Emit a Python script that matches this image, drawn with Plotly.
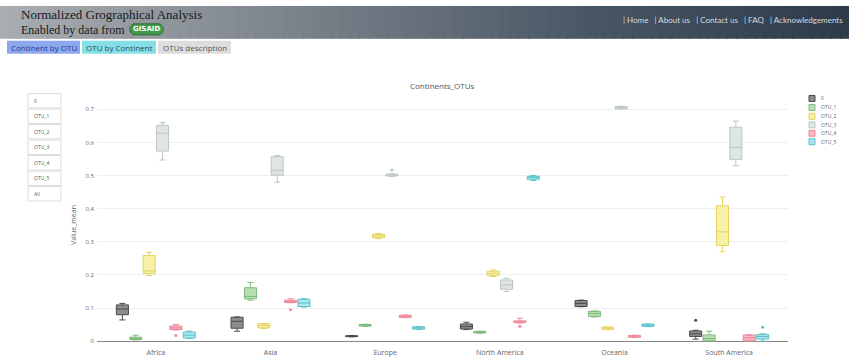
import plotly.graph_objects as go

W, H = 849, 364

continents = ["Africa", "Asia", "Europe", "North America", "Oceania", "South America"]
otu_names = ["0", "OTU_1", "OTU_2", "OTU_3", "OTU_4", "OTU_5"]
menu_labels = ["0", "OTU_1", "OTU_2", "OTU_3", "OTU_4", "OTU_5", "All"]

# sample values per continent, one list per OTU
otu_0 = [
    [0.064, 0.085, 0.097, 0.108, 0.114],
    [0.030, 0.042, 0.060, 0.072, 0.073],
    [0.013, 0.014, 0.015, 0.016, 0.017],
    [0.035, 0.037, 0.044, 0.050, 0.057],
    [0.104, 0.105, 0.114, 0.122, 0.124],
    [0.006, 0.012, 0.015, 0.019, 0.022, 0.026, 0.030, 0.033, 0.063],
]
otu_1 = [
    [0.004, 0.005, 0.008, 0.010, 0.018],
    [0.124, 0.129, 0.135, 0.156, 0.177],
    [0.045, 0.046, 0.048, 0.050, 0.051],
    [0.024, 0.025, 0.027, 0.029, 0.030],
    [0.073, 0.075, 0.083, 0.090, 0.091],
    [0.000, 0.001, 0.008, 0.015, 0.030],
]
otu_2 = [
    [0.198, 0.207, 0.212, 0.255, 0.268],
    [0.038, 0.041, 0.047, 0.052, 0.053],
    [0.309, 0.314, 0.318, 0.322, 0.325],
    [0.195, 0.199, 0.205, 0.210, 0.215],
    [0.035, 0.036, 0.039, 0.042, 0.043],
    [0.270, 0.295, 0.330, 0.400, 0.435],
]
otu_3 = [
    [0.547, 0.583, 0.628, 0.649, 0.660],
    [0.480, 0.508, 0.516, 0.556, 0.560],
    [0.497, 0.498, 0.499, 0.500, 0.501, 0.502, 0.504, 0.505, 0.517],
    [0.150, 0.159, 0.170, 0.183, 0.190],
    [0.701, 0.702, 0.705, 0.708, 0.709],
    [0.530, 0.555, 0.585, 0.640, 0.664],
]
otu_4 = [
    [0.017, 0.034, 0.035, 0.038, 0.040, 0.042, 0.045, 0.048, 0.050],
    [0.095, 0.116, 0.117, 0.119, 0.120, 0.121, 0.123, 0.126, 0.128],
    [0.071, 0.072, 0.075, 0.078, 0.079],
    [0.045, 0.055, 0.056, 0.057, 0.058, 0.059, 0.061, 0.062, 0.069],
    [0.011, 0.012, 0.015, 0.017, 0.018],
    [0.000, 0.001, 0.010, 0.018, 0.019],
]
otu_5 = [
    [0.008, 0.010, 0.018, 0.027, 0.030],
    [0.103, 0.105, 0.115, 0.126, 0.128],
    [0.035, 0.037, 0.040, 0.043, 0.044],
    [0.485, 0.490, 0.494, 0.497, 0.500],
    [0.044, 0.045, 0.048, 0.051, 0.052],
    [0.000, 0.004, 0.007, 0.010, 0.014, 0.017, 0.019, 0.022, 0.042],
]
series = [otu_0, otu_1, otu_2, otu_3, otu_4, otu_5]

line_colors = ["#4a4a4a", "#7dbb7d", "#e3d460", "#bcc6c6", "#ee8898", "#5cc3cc"]
fill_colors = ["#8c8c8c", "#b9ddb4", "#f6f0a8", "#dfe5e5", "#f8b8c3", "#aee5ea"]


def X(px):
    return px / W


def Y(py):
    return 1 - py / H


fig = go.Figure()
for name, data, lc, fc in zip(otu_names, series, line_colors, fill_colors):
    xs, ys = [], []
    for cont, vals in zip(continents, data):
        xs += [cont] * len(vals)
        ys += vals
    fig.add_trace(go.Box(
        x=xs, y=ys, name=name, line=dict(color=lc, width=1), fillcolor=fc,
        marker=dict(color=lc, size=3), boxpoints="outliers", showlegend=False,
    ))

shapes = []
annotations = []

# header gradient
stops = [(0.0, (170, 174, 178)), (0.35, (122, 130, 138)), (0.7, (72, 86, 100)), (1.0, (44, 58, 74))]


def grad(t):
    for (t0, c0), (t1, c1) in zip(stops[:-1], stops[1:]):
        if t0 <= t <= t1:
            f = (t - t0) / (t1 - t0)
            return "rgb(%d,%d,%d)" % tuple(round(a + (b - a) * f) for a, b in zip(c0, c1))
    return "rgb(%d,%d,%d)" % stops[-1][1]


N = 90
for i in range(N):
    shapes.append(dict(type="rect", xref="paper", yref="paper", layer="below",
                       x0=i / N, x1=(i + 1) / N + 0.002, y0=Y(39), y1=Y(6),
                       fillcolor=grad((i + 0.5) / N), line=dict(width=0)))

annotations.append(dict(text="Normalized Grographical Analysis", x=X(19), y=Y(15), xref="paper", yref="paper",
                        xanchor="left", yanchor="middle", showarrow=False,
                        font=dict(family="Liberation Serif", size=13, color="#15191d")))
annotations.append(dict(text="Enabled by data from", x=X(19), y=Y(30), xref="paper", yref="paper",
                        xanchor="left", yanchor="middle", showarrow=False,
                        font=dict(family="Liberation Serif", size=12, color="#15191d")))
# GISAID pill
shapes.append(dict(type="path", xref="paper", yref="paper",
                   path="M %f %f L %f %f Q %f %f %f %f L %f %f Q %f %f %f %f Z" % (
                       X(133), Y(24), X(160), Y(24), X(167), Y(29.5), X(160), Y(35),
                       X(133), Y(35), X(126), Y(29.5), X(133), Y(24)),
                   fillcolor="#3f9a4a", line=dict(color="#2a6e33", width=1)))
annotations.append(dict(text="<b>GISAID</b>", x=X(146.5), y=Y(29.5), xref="paper", yref="paper",
                        xanchor="center", yanchor="middle", showarrow=False,
                        font=dict(family="DejaVu Sans", size=7, color="#ffffff")))
annotations.append(dict(text="| Home &nbsp;&nbsp;| About us &nbsp;&nbsp;| Contact us &nbsp;&nbsp;| FAQ &nbsp;&nbsp;| Acknowledgements",
                        x=X(845), y=Y(20), xref="paper", yref="paper", xanchor="right", yanchor="middle",
                        showarrow=False, font=dict(family="Lato", size=8, color="#d5dbe1")))

# tab buttons
tabs = [("Continent by OTU", 7, 80, "#8ea8ef", "#1f3a8a"),
        ("OTU by Continent", 82, 156, "#86dfe6", "#1f4f63"),
        ("OTUs description", 158, 231, "#dddddd", "#555555")]
for label, x0, x1, bg, fg in tabs:
    shapes.append(dict(type="rect", xref="paper", yref="paper", x0=X(x0), x1=X(x1), y0=Y(54), y1=Y(41),
                       fillcolor=bg, line=dict(width=0)))
    annotations.append(dict(text=label, x=X((x0 + x1) / 2), y=Y(47.5), xref="paper", yref="paper",
                            xanchor="center", yanchor="middle", showarrow=False,
                            font=dict(family="Open Sans", size=8, color=fg)))

# selector buttons (drawn)
for i, lab in enumerate(menu_labels):
    top = 94 + i * 15.6
    shapes.append(dict(type="rect", xref="paper", yref="paper", x0=X(28), x1=X(61), y0=Y(top + 14.5), y1=Y(top),
                       fillcolor="white", line=dict(color="#dcdcdc", width=1)))
    annotations.append(dict(text=lab, x=X(32), y=Y(top + 7.3), xref="paper", yref="paper",
                            xanchor="left", yanchor="middle", showarrow=False,
                            font=dict(family="Open Sans", size=5, color="#555555")))

# custom legend
leg_y = [99, 108, 117, 125.5, 134, 142.5]
for name, ly, lc, fc in zip(otu_names, leg_y, line_colors, fill_colors):
    shapes.append(dict(type="rect", xref="paper", yref="paper", x0=X(809), x1=X(815), y0=Y(ly + 3), y1=Y(ly - 3),
                       fillcolor=fc, line=dict(color=lc, width=1)))
    annotations.append(dict(text=name, x=X(819), y=Y(ly), xref="paper", yref="paper",
                            xanchor="left", yanchor="middle", showarrow=False,
                            font=dict(family="Open Sans", size=5, color="#666666")))

# chart title
annotations.append(dict(text="Continents_OTUs", x=X(442), y=Y(86), xref="paper", yref="paper",
                        xanchor="center", yanchor="middle", showarrow=False,
                        font=dict(family="Open Sans", size=8, color="#555555")))

# y title
annotations.append(dict(text="Value_mean", x=X(74), y=Y(226), xref="paper", yref="paper",
                        xanchor="center", yanchor="middle", textangle=-90, showarrow=False,
                        font=dict(family="Open Sans", size=7, color="#666666")))

fig.update_layout(
    width=W, height=H,
    margin=dict(l=0, r=0, t=0, b=0),
    paper_bgcolor="white", plot_bgcolor="white",
    font=dict(family="Open Sans", size=7, color="#666666"),
    boxmode="group", boxgap=0.3, boxgroupgap=0.1,
    showlegend=False,
    xaxis=dict(domain=[X(97), X(788)], categoryorder="array", categoryarray=continents,
               showgrid=False, ticks="", tickfont=dict(size=7, color="#666666"), showline=False,
               ticklabelstandoff=4),
    yaxis=dict(domain=[Y(344.7), Y(101.6)], range=[-0.005, 0.725], dtick=0.1,
               showgrid=True, gridcolor="#eeeeee", zeroline=True, zerolinecolor="#888888",
               zerolinewidth=1, tickfont=dict(size=6, color="#666666"), ticks="",
               ticklabelstandoff=2),
    shapes=shapes,
    annotations=annotations,
)

fig.write_html("out.html")
